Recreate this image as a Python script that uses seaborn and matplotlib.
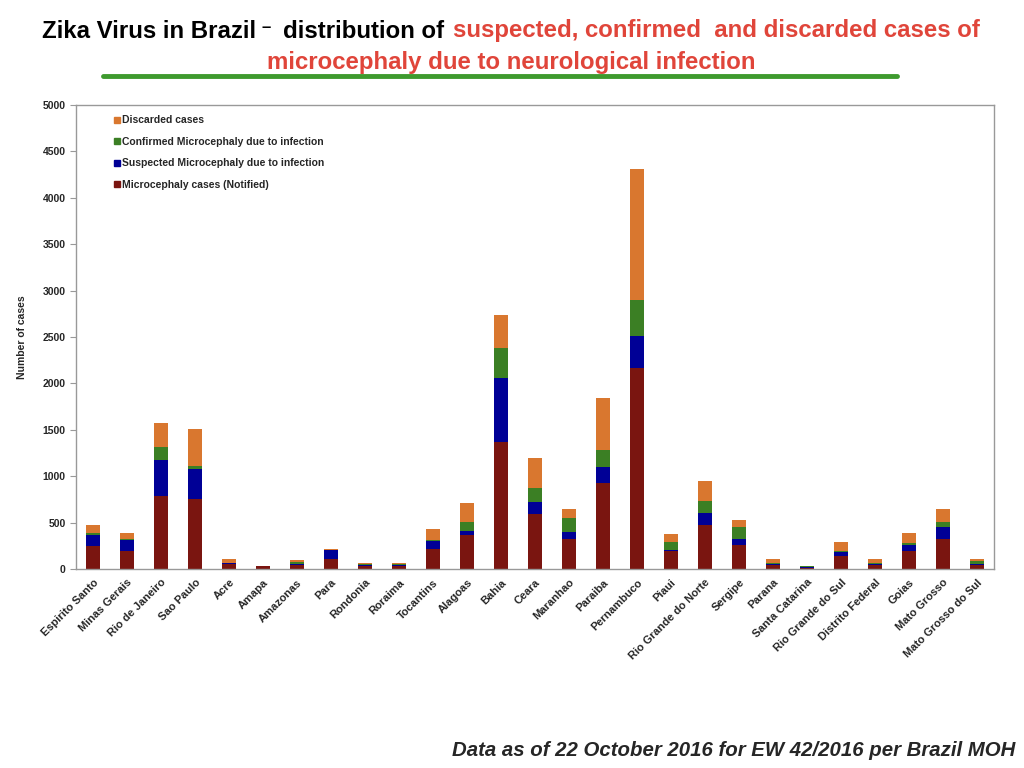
import numpy as np
import pandas as pd
import seaborn as sns
import matplotlib.pyplot as plt
from matplotlib.lines import Line2D

states = ["Espirito Santo", "Minas Gerais", "Rio de Janeiro", "Sao Paulo", "Acre", "Amapa",
          "Amazonas", "Para", "Rondonia", "Roraima", "Tocantins", "Alagoas", "Bahia", "Ceara",
          "Maranhao", "Paraiba", "Pernambuco", "Piaui", "Rio Grande do Norte", "Sergipe",
          "Parana", "Santa Catarina", "Rio Grande do Sul", "Distrito Federal", "Goias",
          "Mato Grosso", "Mato Grosso do Sul"]

notified = [243, 194, 782, 754, 55, 30, 40, 103, 35, 35, 213, 362, 1368, 596,
            323, 927, 2164, 192, 472, 264, 48, 15, 143, 48, 190, 323, 48]
suspected = [119, 118, 396, 319, 5, 3, 10, 97, 5, 5, 90, 43, 686, 129,
             76, 168, 343, 8, 129, 61, 5, 2, 43, 5, 64, 125, 7]
confirmed = [29, 7, 137, 33, 5, 2, 25, 5, 10, 10, 8, 97, 323, 144,
             154, 191, 395, 95, 136, 129, 10, 10, 11, 12, 26, 54, 31]
discarded = [79, 72, 258, 398, 38, 2, 22, 14, 18, 16, 125, 205, 362, 330,
             94, 553, 1410, 85, 207, 79, 40, 3, 97, 47, 111, 148, 25]

labels = ["Microcephaly cases (Notified)", "Suspected Microcephaly due to infection",
          "Confirmed Microcephaly due to infection", "Discarded cases"]
colors = ["#7a1510", "#000096", "#3b7f24", "#d9772f"]

df = pd.DataFrame({"state": states, "notified": notified, "suspected": suspected,
                   "confirmed": confirmed, "discarded": discarded})
cols = ["notified", "suspected", "confirmed", "discarded"]
cum = df[cols].cumsum(axis=1)

sns.set_style("white")
plt.rcParams["font.family"] = ["Liberation Sans", "DejaVu Sans"]

fig = plt.figure(figsize=(10.24, 7.68), dpi=100)
ax = fig.add_axes([76 / 1024, 1 - 569 / 768, 918 / 1024, 464 / 768])

# draw from the tallest cumulative layer down so each segment shows
for c, col in reversed(list(zip(colors, cols))):
    sns.barplot(x=df["state"], y=cum[col], color=c, width=0.42, ax=ax,
                saturation=1, linewidth=0)

ax.set_xlim(-0.5, len(states) - 0.5)
ax.set_ylim(0, 5000)
ax.set_yticks(np.arange(0, 5001, 500))
ax.set_yticklabels([str(v) for v in range(0, 5001, 500)], fontsize=7.5, fontweight="bold")
ax.set_xticks(range(len(states)))
ax.set_xticklabels(states, rotation=45, ha="right", rotation_mode="anchor",
                   fontsize=8, fontweight="bold")
ax.set_xticks(np.arange(-0.5, len(states), 1), minor=True)
ax.tick_params(axis="x", which="major", length=0, pad=6)
ax.tick_params(axis="x", which="minor", length=4, color="#999999", direction="out")
ax.tick_params(axis="y", length=4, color="#999999", direction="out", left=True)
ax.set_xlabel("")
ax.set_ylabel("Number of cases", fontsize=7.5, fontweight="bold", labelpad=11)
for s in ax.spines.values():
    s.set_color("#999999")
    s.set_linewidth(1)

handles = [Line2D([], [], marker="s", linestyle="", markersize=4, color=c)
           for c in reversed(colors)]
ax.legend(handles, list(reversed(labels)), loc="upper left", bbox_to_anchor=(0.03, 0.998),
          frameon=False, prop={"size": 7.5, "weight": "bold"}, handletextpad=0.1,
          labelspacing=1.1, handlelength=0.8)

# title, pieces placed at the reference x positions
W, H = 1024, 768
tkw = dict(fontsize=17.3, fontweight="bold", va="center")
fig.text(42 / W, 1 - 31 / H, "Zika Virus in Brazil", color="black", **tkw)
fig.text(261 / W, 1 - 27 / H, "–", color="black", fontsize=12, fontweight="bold", va="center")
fig.text(283 / W, 1 - 31 / H, "distribution of", color="black", **tkw)
fig.text(453 / W, 1 - 31 / H, "suspected, confirmed  and discarded cases of", color="#e0453a", **tkw)
fig.text(511 / W, 1 - 62 / H, "microcephaly due to neurological infection", color="#e0453a",
         ha="center", fontsize=17.3, fontweight="bold", va="center")
fig.add_artist(Line2D([103 / W, 897 / W], [1 - 76 / H, 1 - 76 / H],
                      color="#3e9a2e", linewidth=3.5))

fig.text(1015 / W, 1 - 750 / H, "Data as of 22 October 2016 for EW 42/2016 per Brazil MOH",
         fontsize=14.7, fontweight="bold", style="italic", ha="right", va="center")

fig.savefig("out.png", dpi=100)
